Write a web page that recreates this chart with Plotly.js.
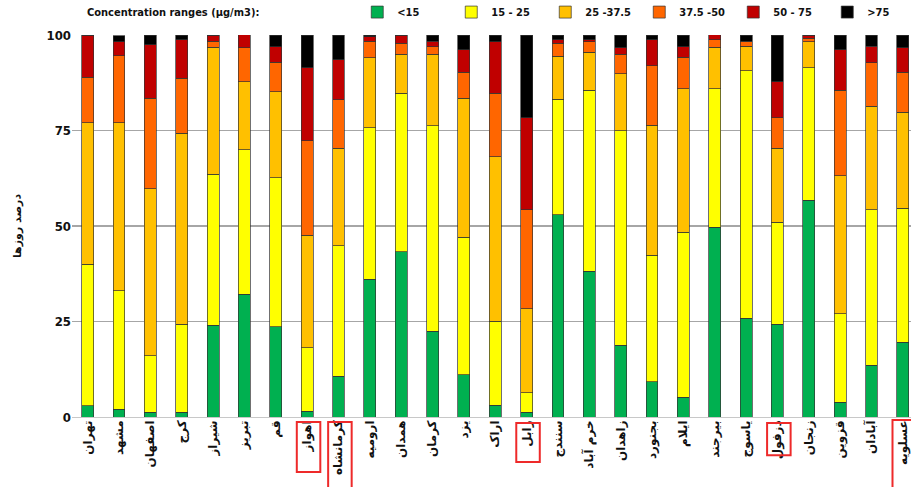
<!DOCTYPE html>
<html>
<head>
<meta charset="utf-8">
<script src="https://cdn.plot.ly/plotly-3.0.1.min.js"></script>
<style>
html,body{margin:0;padding:0;background:#fff;}
#chart{width:911px;height:487px;}
</style>
</head>
<body>
<div id="chart"></div>
<script>
const cities = ["تهران","مشهد","اصفهان","کرج","شیراز","تبریز","قم","اهواز","کرمانشاه","ارومیه","همدان","کرمان","یزد","اراک","زابل","سنندج","خرم آباد","زاهدان","بجنورد","ایلام","بیرجند","یاسوج","دزفول","زنجان","قزوین","آبادان","عسلویه"];
const rangeNames = ["<15","15 - 25","25 -37.5","37.5 -50","50 - 75",">75"];
const lt15   = [3,2,1.3,1.3,24,32.2,23.6,1.5,10.7,36.1,43.2,22.5,11,3.1,1.3,52.9,38.2,18.8,9.2,5.2,49.7,25.9,24.3,56.8,3.9,13.6,19.6];
const r15_25 = [37,31,14.7,23,39.5,37.7,39,16.6,34.1,39.6,41.6,53.7,36.1,22,5,30.3,47.4,56.1,33.2,43.2,36.2,64.7,26.7,34.6,23.1,40.6,35.1];
const r25_37 = [37,44,43.7,50,33.3,17.8,22.5,29.5,25.6,18.3,10.2,18.8,36.4,43,22,11.3,9.9,14.9,34,37.5,10.9,6.5,19.4,6.8,36.1,27.2,25.1];
const r37_50 = [12,17.6,23.8,14.4,1.5,9,7.8,24.7,12.6,4.4,2.9,1.9,6.8,16.7,25.9,3.4,2.7,5.2,15.5,8.3,1.9,1.3,7.9,1,22.5,11.3,10.5];
const r50_75 = [11,3.6,13.9,10,1.6,3.4,4,19.1,10.5,1.1,2.1,1.5,5.8,13.4,24.1,0.8,0.5,1.6,6.8,2.7,1.8,0,9.4,0.8,10.5,4.4,6.3];
const gt75   = [0,1.6,2.6,1.3,0,0,3.1,8.6,6.5,0.5,0,1.6,3.9,1.8,21.7,1.3,1.3,3.4,1.3,3.1,1.3,1.6,12.3,0,3.9,2.9,3.4];
const yTicks = [0,25,50,75,100];
const highlighted = ["اهواز","کرمانشاه","زابل","دزفول","عسلویه"];

const series = [lt15, r15_25, r25_37, r37_50, r50_75, gt75];
const colors = ["#00B050","#FFFF00","#FFC000","#FF6600","#C00000","#000000"];

const traces = series.map((vals,i)=>({
  type:'bar', name:rangeNames[i], x:cities, y:vals,
  marker:{color:colors[i], line:{color:'#333333', width:0.7}},
  hoverinfo:'x+y+name'
}));

const boxY = {"اهواز":[-0.013,-0.144],"کرمانشاه":[-0.013,-0.19],"زابل":[-0.016,-0.118],"دزفول":[-0.016,-0.1],"عسلویه":[-0.008,-0.19]};
const shapes = highlighted.map(c=>{
  const i = cities.indexOf(c);
  const yy = boxY[c];
  return {type:'rect', xref:'x', yref:'paper', x0:i-0.33, x1:i+0.42, y0:yy[1], y1:yy[0],
          line:{color:'#EE2A2A', width:2}, fillcolor:'rgba(0,0,0,0)'};
});

const font = "Liberation Sans Narrow, DejaVu Sans Condensed, Arial Narrow, sans-serif";

const layout = {
  width:911, height:487,
  margin:{l:72, r:0, t:35, b:70, autoexpand:false},
  paper_bgcolor:'#fff', plot_bgcolor:'#fff',
  barmode:'stack', bargap:0.62,
  showlegend:true,
  legend:{orientation:'h', x:0.340, y:1.06, xanchor:'left', yanchor:'middle',
          font:{family:font, size:11, color:'#111', weight:'bold'}, entrywidth:49, entrywidthmode:'pixels',
          traceorder:'normal', bgcolor:'rgba(0,0,0,0)'},
  xaxis:{type:'category', range:[-0.5,26.26], tickangle:-90, showgrid:false,
         tickfont:{family:"DejaVu Sans, Noto Sans", size:12, color:'#111', weight:'bold'},
         ticks:'', showline:false, automargin:false},
  yaxis:{range:[0,100], tickvals:yTicks, ticktext:yTicks.map(String),
         showgrid:true, gridcolor:'#a6a6a6', gridwidth:1.5, zeroline:true, zerolinecolor:'#c8c8c8', zerolinewidth:1,
         tickfont:{family:font, size:13, color:'#111', weight:'bold'}, ticks:'', ticklen:0,
         title:{text:'درصد روزها', font:{family:"DejaVu Sans, Noto Sans", size:11, color:'#111', weight:'bold'}, standoff:22},
         automargin:false},
  annotations:[{xref:'paper', yref:'paper', x:0.0155, y:1.06, xanchor:'left', yanchor:'middle',
                text:'<b>Concentration ranges (µg/m3):</b>', showarrow:false,
                font:{family:font, size:11, color:'#111'}}],
  shapes:shapes
};

Plotly.newPlot('chart', traces, layout, {displayModeBar:false, staticPlot:true});
</script>
</body>
</html>
